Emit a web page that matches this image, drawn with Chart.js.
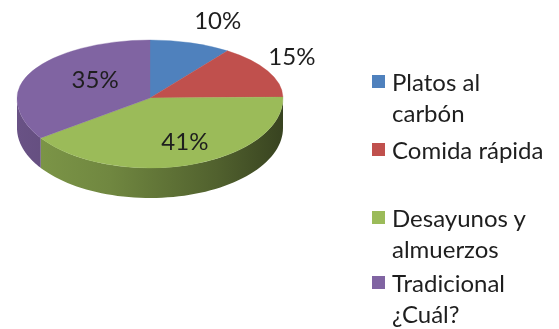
<!DOCTYPE html>
<html>
<head>
<meta charset="utf-8">
<script src="https://cdn.jsdelivr.net/npm/chart.js@4.4.1/dist/chart.umd.min.js"></script>
<style>
  html, body { margin: 0; padding: 0; background: #fff; }
  #wrap { position: relative; width: 559px; height: 329px; overflow: hidden; }
  #pie { position: absolute; left: 0; top: 0; }
  #legend { position: absolute; left: 0; top: 0; width: 559px; height: 329px; pointer-events: none;
            font-family: Lato, "Open Sans", sans-serif; font-size: 24px; color: #1e1e1e; }
  .item { position: absolute; left: 372px; line-height: 31px; }
  .item .box { position: absolute; left: 0; top: 9px; width: 13px; height: 13px; }
  .item .txt { position: absolute; left: 20px; top: 0; white-space: nowrap; }
</style>
</head>
<body>
<div id="wrap">
  <canvas id="pie" width="559" height="329"></canvas>
  <div id="legend"></div>
</div>
<script>
// Food preferences, share of respondents (%)
const categories = ["Platos al\ncarbón", "Comida rápida", "Desayunos y\nalmuerzos", "Tradicional\n¿Cuál?"];
const shares = [10, 15, 41, 35];
const shareLabels = ["10%", "15%", "41%", "35%"];
const colors = ["#4F81BD", "#C0504D", "#9BBB59", "#8064A2"];

// Projected ellipse of the pie top
const VIEW = { cx: 150, cy: 98, rx: 133, ryBack: 58, ryFront: 70, depth: 30 };

function shade(hex, f) {
  const n = parseInt(hex.slice(1), 16);
  const r = Math.round(((n >> 16) & 255) * f), g = Math.round(((n >> 8) & 255) * f), b = Math.round((n & 255) * f);
  return `rgb(${r},${g},${b})`;
}

const tiltedPie = {
  id: 'tiltedPie',
  beforeDatasetsDraw(chart) {
    const ctx = chart.ctx;
    const meta = chart.getDatasetMeta(0);
    const arcs = meta.data;
    if (!arcs.length) return false;
    const ox = arcs[0].x, oy = arcs[0].y, R = arcs[0].outerRadius;
    const { cx, cy, rx, ryBack, ryFront, depth } = VIEW;

    // side wall of the front half
    arcs.forEach((arc, i) => {
      const a1 = Math.max(arc.startAngle, 0), a2 = Math.min(arc.endAngle, Math.PI);
      if (a2 <= a1) return;
      const steps = 60;
      ctx.save();
      ctx.beginPath();
      for (let s = 0; s <= steps; s++) {
        const a = a1 + (a2 - a1) * s / steps;
        const x = cx + rx * Math.cos(a), y = cy + ryFront * Math.sin(a);
        s === 0 ? ctx.moveTo(x, y) : ctx.lineTo(x, y);
      }
      for (let s = steps; s >= 0; s--) {
        const a = a1 + (a2 - a1) * s / steps;
        ctx.lineTo(cx + rx * Math.cos(a), cy + ryFront * Math.sin(a) + depth);
      }
      ctx.closePath();
      const g = ctx.createLinearGradient(cx - rx, 0, cx + rx, 0);
      const base = colors[i];
      g.addColorStop(0, shade(base, 0.82));
      g.addColorStop(0.35, shade(base, 0.72));
      g.addColorStop(0.75, shade(base, 0.52));
      g.addColorStop(1, shade(base, 0.36));
      ctx.fillStyle = g;
      ctx.fill();
      ctx.restore();
    });

    // top face: back half and front half with their own vertical squash
    const halves = [
      { clip: [0, 0, chart.width, cy], ry: ryBack },
      { clip: [0, cy, chart.width, chart.height - cy], ry: ryFront }
    ];
    halves.forEach(h => {
      ctx.save();
      ctx.beginPath();
      ctx.rect(...h.clip);
      ctx.clip();
      ctx.translate(cx, cy);
      ctx.scale(rx / R, h.ry / R);
      ctx.translate(-ox, -oy);
      arcs.forEach(arc => arc.draw(ctx));
      ctx.restore();
    });
    return false;
  },
  afterDraw(chart) {
    const ctx = chart.ctx;
    const arcs = chart.getDatasetMeta(0).data;
    const { cx, cy, rx, ryBack, ryFront } = VIEW;
    // label anchor: fraction of radius along slice middle, plus nudge
    const place = [[1.0, 27, -22], [1.0, 24, -14], [0.66, 8, 0], [0.5, 4, -4]];
    ctx.save();
    ctx.font = '24px Lato, "Open Sans", sans-serif';
    ctx.fillStyle = '#1e1e1e';
    ctx.textAlign = 'center';
    ctx.textBaseline = 'middle';
    arcs.forEach((arc, i) => {
      const m = (arc.startAngle + arc.endAngle) / 2;
      const ry = Math.sin(m) > 0 ? ryFront : ryBack;
      const [f, dx, dy] = place[i];
      const x = cx + rx * f * Math.cos(m) + dx;
      const y = cy + ry * f * Math.sin(m) + dy;
      ctx.fillText(shareLabels[i], x, y);
    });
    ctx.restore();
  }
};

new Chart(document.getElementById('pie'), {
  type: 'pie',
  data: {
    labels: categories,
    datasets: [{
      data: shares,
      backgroundColor: colors,
      borderColor: colors,
      borderWidth: 0.5,
      clip: false
    }]
  },
  options: {
    responsive: false,
    animation: false,
    events: [],
    layout: { padding: { left: 17, right: 276, top: 0, bottom: 63 } },
    plugins: { legend: { display: false }, tooltip: { enabled: false } }
  },
  plugins: [tiltedPie]
});

// legend entries
const legendTops = [66, 134, 202, 267];
const legend = document.getElementById('legend');
categories.forEach((c, i) => {
  const item = document.createElement('div');
  item.className = 'item';
  item.style.top = legendTops[i] + 'px';
  const box = document.createElement('div');
  box.className = 'box';
  box.style.background = colors[i];
  const txt = document.createElement('div');
  txt.className = 'txt';
  txt.innerHTML = c.split('\n').map(s => s.replace(/&/g, '&amp;').replace(/</g, '&lt;')).join('<br>');
  item.appendChild(box);
  item.appendChild(txt);
  legend.appendChild(item);
});
</script>
</body>
</html>
